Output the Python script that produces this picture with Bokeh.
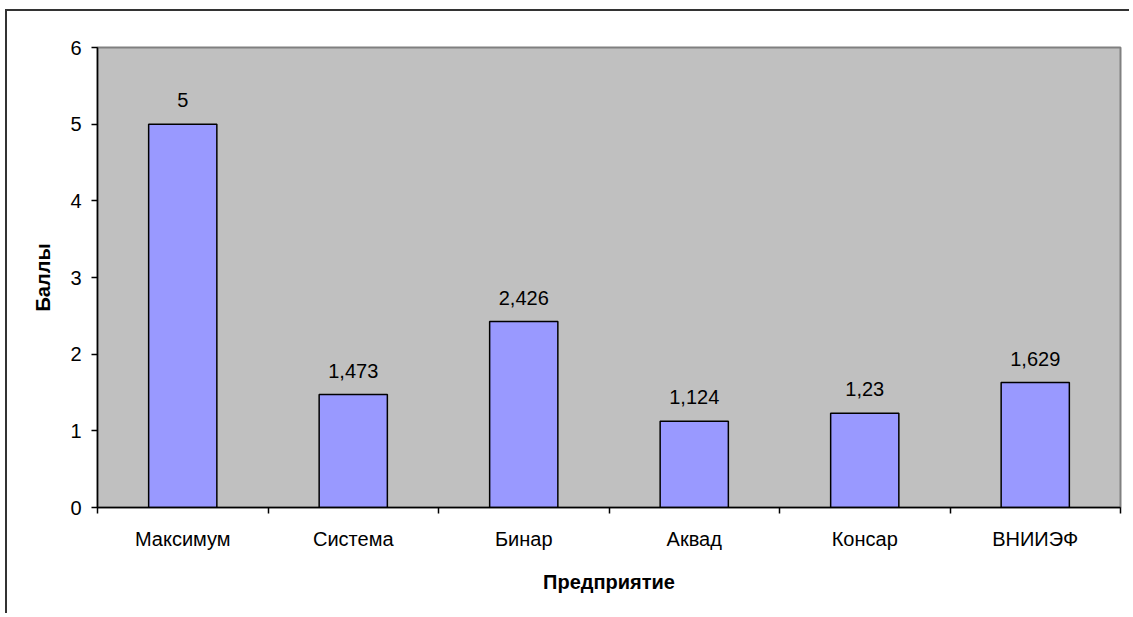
from bokeh.plotting import figure
from bokeh.models import Range1d, FixedTicker, ColumnDataSource
from bokeh.core.properties import value
from bokeh.embed import file_html
from bokeh.resources import INLINE

companies = ["Максимум", "Система", "Бинар", "Аквад", "Консар", "ВНИИЭФ"]
scores = [5, 1.473, 2.426, 1.124, 1.23, 1.629]
score_labels = ["5", "1,473", "2,426", "1,124", "1,23", "1,629"]
y_ticks = [0, 1, 2, 3, 4, 5, 6]

positions = [i + 0.5 for i in range(len(companies))]
boundaries = list(range(len(companies) + 1))

src = ColumnDataSource(dict(x=positions, top=scores, label=score_labels))

FONT = "Liberation Sans"
FS = "20px"

p = figure(width=1124, height=604, title=None,
           x_range=Range1d(0, len(companies)), y_range=Range1d(0, 6),
           output_backend="svg", toolbar_location=None,
           min_border_left=90, min_border_right=11,
           min_border_top=36, min_border_bottom=108)

p.styles = {"margin-left": "5px", "margin-top": "9px",
            "border-left": "2px solid #333333", "border-top": "2px solid #333333"}

p.background_fill_color = "#C0C0C0"
p.border_fill_color = "white"
p.outline_line_color = "#808080"
p.outline_line_width = 2
p.grid.visible = False

p.vbar(x="x", top="top", width=0.4, bottom=0, source=src,
       fill_color="#9999FF", line_color="black", line_width=1.5)

p.text(x="x", y="top", text="label", source=src, text_align="center",
       text_baseline="alphabetic", y_offset=-24,
       text_font=value(FONT), text_font_size=FS, text_color="black")

xa = p.xaxis[0]
xa.ticker = FixedTicker(ticks=positions, minor_ticks=boundaries)
xa.major_label_overrides = {pos: name for pos, name in zip(positions, companies)}
xa.major_tick_line_color = None
xa.minor_tick_out = 6
xa.minor_tick_in = 0
xa.minor_tick_line_color = "black"
xa.minor_tick_line_width = 1.5
xa.axis_line_color = "black"
xa.axis_line_width = 1.5
xa.major_label_standoff = 14
xa.major_label_text_font = FONT
xa.major_label_text_font_size = FS
xa.major_label_text_color = "black"
xa.axis_label = "Предприятие"
xa.axis_label_text_font = FONT
xa.axis_label_text_font_style = "bold"
xa.axis_label_text_font_size = FS
xa.axis_label_text_color = "black"
xa.axis_label_standoff = 18

ya = p.yaxis[0]
ya.ticker = FixedTicker(ticks=y_ticks)
ya.major_tick_out = 6
ya.major_tick_in = 0
ya.major_tick_line_color = "black"
ya.major_tick_line_width = 1.5
ya.minor_tick_line_color = None
ya.axis_line_color = "black"
ya.axis_line_width = 1.5
ya.major_label_standoff = 10
ya.major_label_text_font = FONT
ya.major_label_text_font_size = FS
ya.major_label_text_color = "black"
ya.axis_label = "Баллы"
ya.axis_label_text_font = FONT
ya.axis_label_text_font_style = "bold"
ya.axis_label_text_font_size = FS
ya.axis_label_text_color = "black"
ya.axis_label_standoff = 13

open("out.html", "w").write(file_html(p, INLINE))
